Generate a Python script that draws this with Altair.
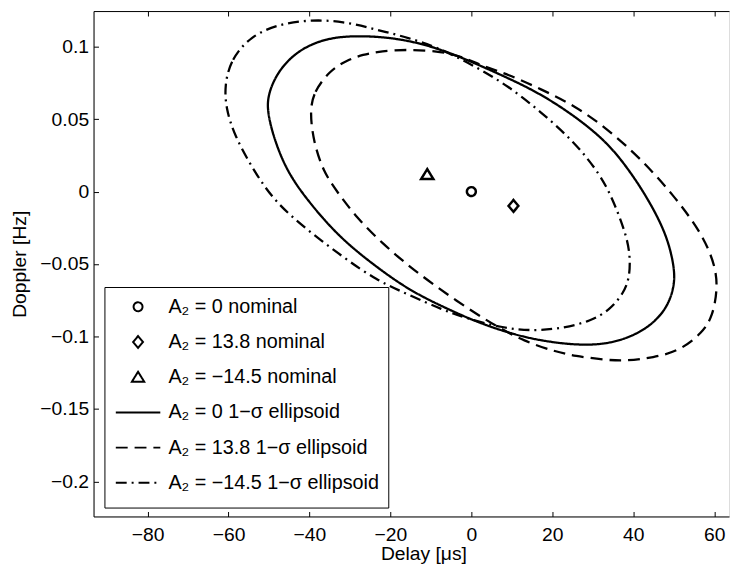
import altair as alt
import pandas as pd

# ---------------- data ----------------
series_labels = [
    "A\u2082 = 0 nominal",
    "A\u2082 = 13.8 nominal",
    "A\u2082 = \u221214.5 nominal",
    "A\u2082 = 0 1\u2212\u03c3 ellipsoid",
    "A\u2082 = 13.8 1\u2212\u03c3 ellipsoid",
    "A\u2082 = \u221214.5 1\u2212\u03c3 ellipsoid",
]

nominal_x = [0.0, 10.4, -10.9]
nominal_y = [0.0, -0.0099, 0.0117]

solid_x = [-50.4, -50.3, -48.0, -43.1, -35.8, -27.7, -19.4, -11.3, -3.3, 5.0, 15.6,
           24.9, 33.5, 39.2, 43.7, 48.2, 50.2, 50.2, 48.2, 43.3, 35.9, 27.8, 17.2,
           9.0, 0.9, -7.2, -15.4, -23.5, -32.6, -40.4, -45.6, -48.8]
solid_y = [0.0549, 0.0665, 0.0822, 0.0972, 0.1061, 0.1076, 0.1061, 0.1015, 0.0936,
           0.0834, 0.0699, 0.0535, 0.0344, 0.0140, -0.0053, -0.0292, -0.0520, -0.0656,
           -0.0815, -0.0952, -0.1042, -0.1065, -0.1031, -0.0974, -0.0895, -0.0793,
           -0.0679, -0.0520, -0.0317, -0.0065, 0.0140, 0.0367]

dashed_x = [-39.9, -39.0, -35.0, -30.9, -26.8, -22.3, -15.5, -7.2, -2.3, 2.5, 9.0,
            17.2, 25.4, 33.5, 41.7, 49.8, 57.1, 60.4, 60.8, 59.6, 57.1, 51.4, 44.9,
            38.4, 33.5, 25.4, 20.5, 13.1, 5.8, -1.5, -8.9, -15.4, -21.9, -28.4, -33.3,
            -36.6, -39.0]
dashed_y = [0.0549, 0.0686, 0.0834, 0.0904, 0.0945, 0.0969, 0.0981, 0.0965, 0.0931,
            0.0868, 0.0810, 0.0706, 0.0595, 0.0435, 0.0231, -0.0019, -0.0292, -0.0520,
            -0.0679, -0.0861, -0.0974, -0.1100, -0.1145, -0.1168, -0.1163, -0.1134,
            -0.1102, -0.1033, -0.0924, -0.0795, -0.0651, -0.0515, -0.0360, -0.0179,
            0.0003, 0.0140, 0.0344]

dashdot_x = [-61.0, -59.4, -54.5, -48.0, -39.9, -31.7, -23.5, -15.4, -7.2, 0.9, 9.0,
             17.2, 25.4, 31.9, 35.1, 37.6, 39.2, 39.2, 37.6, 34.3, 29.4, 22.9, 15.6,
             7.4, -1.5, -7.2, -15.4, -23.5, -31.7, -40.7, -48.5, -53.7, -58.6, -60.6]
dashdot_y = [0.0731, 0.0913, 0.1072, 0.1151, 0.1186, 0.1175, 0.1117, 0.1061, 0.0981,
             0.0863, 0.0731, 0.0549, 0.0344, 0.0117, -0.0065, -0.0247, -0.0406, -0.0588,
             -0.0701, -0.0815, -0.0895, -0.0940, -0.0963, -0.0940, -0.0872, -0.0815,
             -0.0713, -0.0611, -0.0452, -0.0262, -0.0072, 0.0140, 0.0390, 0.0572]

x_ticks = [-80, -60, -40, -20, 0, 20, 40, 60]
y_ticks = [0.1, 0.05, 0, -0.05, -0.1, -0.15, -0.2]
x_domain = [-93.35, 63.66]
y_domain = [-0.2241, 0.1245]

# ---------------- tables ----------------
rows = []
for lab, xs_, ys_ in [(series_labels[3], solid_x, solid_y),
                      (series_labels[4], dashed_x, dashed_y),
                      (series_labels[5], dashdot_x, dashdot_y)]:
    for i, (a, b) in enumerate(zip(xs_, ys_)):
        rows.append({"series": lab, "idx": i, "x": a, "y": b})
ell_df = pd.DataFrame(rows)
nom_df = pd.DataFrame({"series": series_labels[:3], "x": nominal_x, "y": nominal_y})

W, H = 642.5, 511
FONT = "Liberation Sans"
TICKFS = 19.5

xs = alt.Scale(domain=x_domain, nice=False, zero=False)
ys = alt.Scale(domain=y_domain, nice=False, zero=False)

circle_p = "M-0.45,0A0.45,0.45,0,1,0,0.45,0A0.45,0.45,0,1,0,-0.45,0Z"
diamond_p = "M0,-0.6L0.5,0L0,0.6L-0.5,0Z"
tri_p = "M0,-0.55L0.62,0.45L-0.62,0.45Z"
line_p = "M-2.25,0H2.25"

shape_scale = alt.Scale(domain=series_labels,
                        range=[circle_p, diamond_p, tri_p, line_p, line_p, line_p])
dash_scale = alt.Scale(domain=series_labels,
                       range=[[1, 0], [1, 0], [1, 0], [1, 0], [12, 7], [11, 5, 2, 5]])

legend = alt.Legend(title="\u00a0", titleOrient="bottom", titleFontSize=6,
                    titlePadding=0, orient="none", legendX=11, legendY=279,
                    padding=9, rowPadding=14.6, symbolSize=400, symbolStrokeWidth=2,
                    symbolStrokeColor="black", symbolFillColor="white",
                    symbolOffset=14, labelFont=FONT, labelFontSize=20,
                    labelColor="black", labelOffset=19.7, labelLimit=500,
                    strokeColor="black", fillColor="white", cornerRadius=0)

lab_expr = "replace(toString(datum.value), '-', '\u2212')"

ax_x_main = alt.Axis(orient="bottom", values=x_ticks, labelExpr=lab_expr, ticks=False,
                     tickSize=0, domain=True, domainColor="black", domainWidth=1,
                     labelFont=FONT, labelFontSize=TICKFS, labelColor="black",
                     labelPadding=9, labelFlush=False, grid=False,
                     title="Delay [\u03bcs]", titleFont=FONT, titleFontSize=TICKFS,
                     titleFontWeight="normal", titleColor="black", titleX=333.5,
                     titleY=43.7, titleBaseline="alphabetic", titleAlign="center")
ax_y_main = alt.Axis(orient="left", values=y_ticks, labelExpr=lab_expr, ticks=False,
                     tickSize=0, domain=True, domainColor="black", domainWidth=1,
                     labelFont=FONT, labelFontSize=TICKFS, labelColor="black",
                     labelPadding=5, labelFlush=False, grid=False,
                     title="Doppler [Hz]", titleFont=FONT, titleFontSize=TICKFS,
                     titleFontWeight="normal", titleColor="black", titleX=-69,
                     titleY=255.5, titleAngle=270, titleBaseline="alphabetic",
                     titleAlign="center")

ax_x_bot_in = alt.Axis(orient="top", offset=-H, values=x_ticks, labels=False,
                       domain=False, ticks=True, tickSize=5, tickColor="black",
                       tickWidth=1, grid=False, title=None)
ax_y_left_in = alt.Axis(orient="right", offset=-W, values=y_ticks, labels=False,
                        domain=False, ticks=True, tickSize=5, tickColor="black",
                        tickWidth=1, grid=False, title=None)
ax_x_top_in = alt.Axis(orient="bottom", offset=-H, values=x_ticks, labels=False,
                       domain=True, domainColor="black", domainWidth=1, ticks=True,
                       tickSize=5, tickColor="black", tickWidth=1, grid=False,
                       title=None)

lines = alt.Chart(ell_df).mark_line(
    color="black", strokeWidth=2.3, interpolate="basis-closed"
).encode(
    x=alt.X("x:Q", scale=xs, axis=ax_x_main),
    y=alt.Y("y:Q", scale=ys, axis=ax_y_main),
    order=alt.Order("idx:Q"),
    detail="series:N",
    strokeDash=alt.StrokeDash("series:N", scale=dash_scale, legend=legend),
)

points = alt.Chart(nom_df).mark_point(
    filled=False, size=400, strokeWidth=2.5, color="black", opacity=1
).encode(
    x=alt.X("x:Q", scale=xs, axis=ax_x_bot_in),
    y=alt.Y("y:Q", scale=ys, axis=ax_y_left_in),
    shape=alt.Shape("series:N", scale=shape_scale, legend=legend),
    strokeDash=alt.StrokeDash("series:N", scale=dash_scale, legend=legend),
)

frame = alt.Chart(nom_df).mark_point(opacity=0).encode(
    x=alt.X("x:Q", scale=xs, axis=ax_x_top_in),
    y=alt.Y("y:Q", scale=ys, axis=None),
)

chart = alt.layer(lines, points, frame).resolve_axis(
    x="independent", y="independent"
).properties(
    width=W, height=H,
    autosize=alt.AutoSizeParams(type="none"),
    padding={"left": 86.5, "top": 0, "right": 1, "bottom": 48},
    background="white",
).configure_view(stroke="transparent").configure(font=FONT)

chart.save("out.html", embed_options={"renderer": "svg", "actions": False})
